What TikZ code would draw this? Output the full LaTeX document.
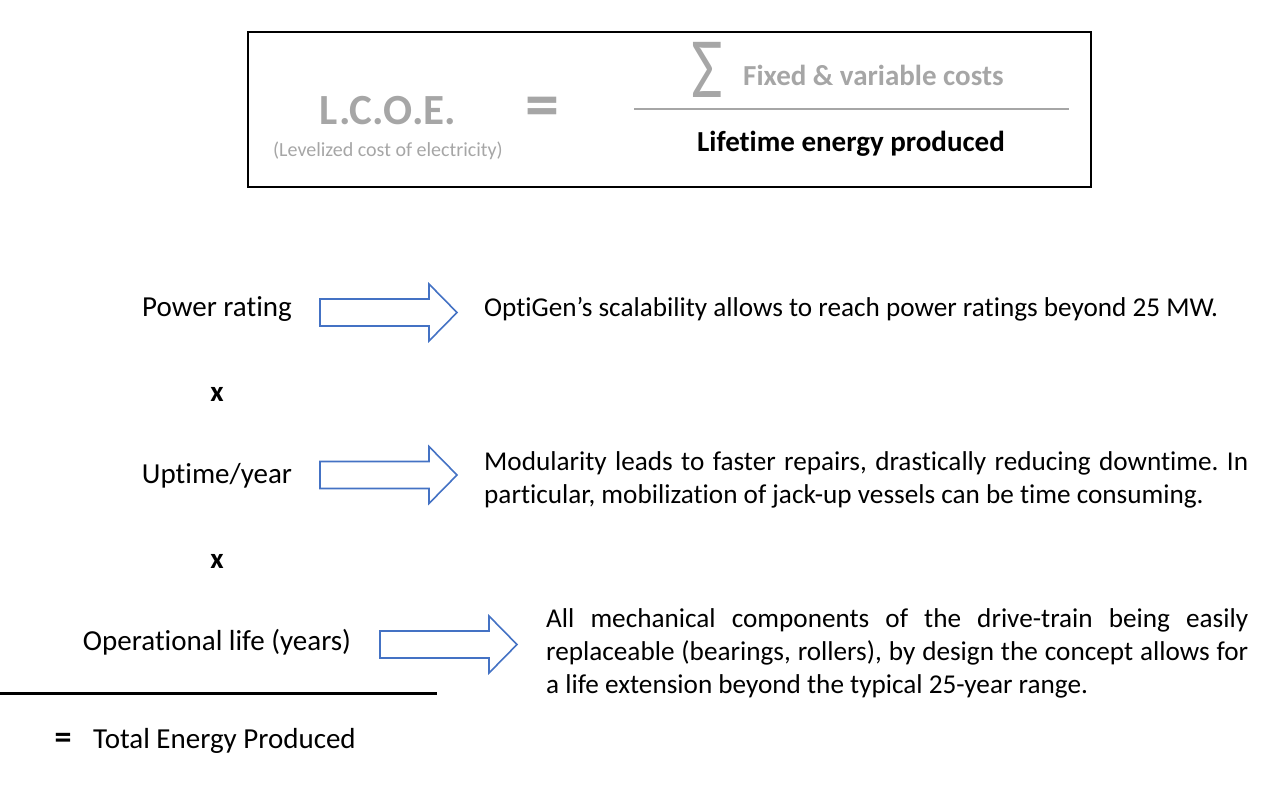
\documentclass[tikz,border=0pt]{standalone}
\usepackage{fontspec}
\setmainfont{Carlito}[Ligatures=NoCommon]
\definecolor{lgray}{HTML}{A6A6A6}
\definecolor{ablue}{HTML}{4472C4}
\hyphenpenalty=10000
\exhyphenpenalty=10000
\frenchspacing
\tikzset{
  body/.style={font=\fontsize{27.2}{33}\selectfont, inner sep=0pt},
  lab/.style={font=\fontsize{29}{33}\selectfont, inner sep=0pt},
  para/.style={body, anchor=north west, align=justify},
  blockarr/.style={draw=ablue, line width=1.6pt, fill=white, line join=miter},
}
\newcommand\blockarrow[1]{%
  \draw[blockarr] (#1) ++(0,-13.5) -- ++(109,0) -- ++(0,-15) -- ++(28,28.5)
    -- ++(-28,28.5) -- ++(0,-15) -- ++(-109,0) -- cycle;}
\begin{document}
\begin{tikzpicture}[x=1pt,y=-1pt]
\useasboundingbox (0,0) rectangle (1266,785);
% formula box
\node[draw=black, line width=2pt, minimum width=843, minimum height=155, anchor=north west, inner sep=0pt] (box) at (247,31) {};
\node[inner sep=0pt, text=lgray, font=\fontsize{43}{44}\selectfont\bfseries] (lcoe) at (388,111) {L.C.O.E.};
\node[inner sep=0pt, text=lgray, font=\fontsize{20}{22}\selectfont] (lev) at (388,151) {(Levelized cost of electricity)};
\node[inner sep=0pt, text=lgray, font=\fontsize{68}{68}\selectfont\bfseries] (eq) at (542,112) {=};
\coordinate (fl) at (634,109);
\coordinate (fr) at (1069,109);
\draw[lgray, line width=2pt] (fl) -- (fr);
\node[inner sep=0pt, text=lgray, font=\fontsize{86}{86}\selectfont, xscale=0.8] (sig) at (707,70) {Σ};
\node[inner sep=0pt, text=lgray, font=\fontsize{29}{30}\selectfont\bfseries, anchor=west] (num) at (743,75) {Fixed \& variable costs};
\node[inner sep=0pt, text=black, font=\fontsize{29}{30}\selectfont\bfseries, anchor=west] (den) at (697,144) {Lifetime energy produced};
% rows
\node[lab] (pr) at (217,309) {Power rating};
\coordinate (a1) at (320,312.5);
\blockarrow{a1}
\node[body, anchor=west] (t1) at (484,309) {OptiGen’s scalability allows to reach power ratings beyond 25 MW.};
\node[body, font=\fontsize{29}{30}\selectfont\bfseries] (x1) at (217,394) {x};
\node[lab] (up) at (217,476) {Uptime/year};
\coordinate (a2) at (320,475);
\blockarrow{a2}
\node[para, text width=764] (t2) at (484,451) {Modularity leads to faster repairs, drastically reducing downtime. In particular, mobilization of jack-up vessels can be time consuming.};
\node[body, font=\fontsize{29}{30}\selectfont\bfseries] (x2) at (217,561) {x};
\node[lab] (ol) at (217,642) {Operational life (years)};
\coordinate (a3) at (380,644.5);
\blockarrow{a3}
\node[para, text width=702] (t3) at (546,608) {All mechanical components of the drive-train being easily replaceable (bearings, rollers), by design the concept allows for a life extension beyond the typical 25-year range.};
\coordinate (ll) at (0,693);
\coordinate (lr) at (437,693);
\draw[black, line width=3pt] (ll) -- (lr);
\node[body, font=\fontsize{34}{34}\selectfont\bfseries] (eq2) at (63,741) {=};
\node[lab, anchor=west] (tot) at (93,741) {Total Energy Produced};
\end{tikzpicture}
\end{document}
